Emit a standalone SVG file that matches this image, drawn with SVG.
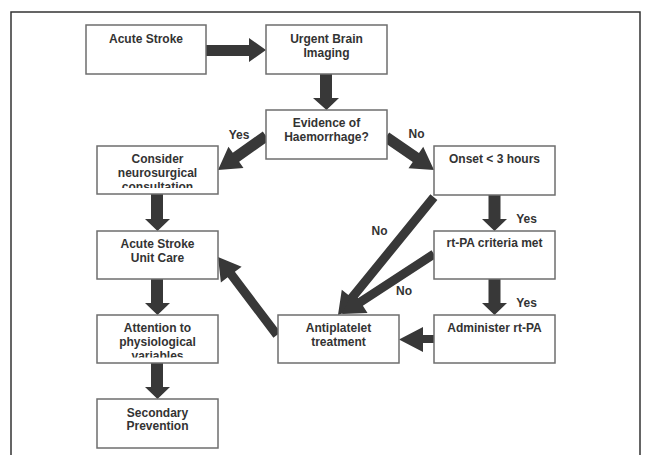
<svg xmlns="http://www.w3.org/2000/svg" width="651" height="455" viewBox="0 0 651 455">
<style>
.box{fill:#fff;stroke:#6e6e6e;stroke-width:1.5}
.t{font-family:"Liberation Sans",Arial,sans-serif;font-weight:bold;font-size:12px;fill:#333;text-anchor:middle}
.arr{fill:#383838}
.frame{fill:none;stroke:#333;stroke-width:1.5}
</style>
<defs>
<clipPath id="c1"><rect x="97" y="146" width="121" height="42"/></clipPath>
<clipPath id="c2"><rect x="97" y="315" width="121" height="42.5"/></clipPath>
</defs>
<rect width="651" height="455" fill="#fff"/>
<path class="frame" d="M11,455 V12 H640 V455"/>
<g id="connectors">
<polygon class="arr" points="206,45 249,45 249,38 266,50 249,62 249,56 206,56"/>
<polygon class="arr" points="320,74 332,74 332,98 339,98 326.5,110 313,98 320,98"/>
<polygon class="arr" points="151,194 163,194 163,219 170,219 157.5,231 145,219 151,219"/>
<polygon class="arr" points="151,279 163,279 163,303 170,303 157.5,315 145,303 151,303"/>
<polygon class="arr" points="151,363 163,363 163,387 170,387 157.5,399 145,387 151,387"/>
<polygon class="arr" points="488.5,195 500.5,195 500.5,219 507,219 494.5,231 482,219 488.5,219"/>
<polygon class="arr" points="488.5,279 500.5,279 500.5,303 507,303 494.5,315 482,303 488.5,303"/>
<polygon class="arr" points="434,335 423,335 423,327 399,339.5 423,352 423,343 434,343"/>
<g transform="translate(218,170) rotate(144.7)"><polygon class="arr" points="-58.8,-5.5 -22,-5.5 -22,-13 0,0 -22,13 -22,5.5 -58.8,5.5"/></g>
<g transform="translate(434,170) rotate(34.5)"><polygon class="arr" points="-58.2,-5.5 -22,-5.5 -22,-13 0,0 -22,13 -22,5.5 -58.2,5.5"/></g>
<g transform="translate(338,315) rotate(129.1)"><polygon class="arr" points="-152,-4.5 -22,-4.5 -22,-13 0,0 -22,13 -22,4.5 -152,4.5"/></g>
<g transform="translate(342,314) rotate(146.9)"><polygon class="arr" points="-109.8,-4.5 -22,-4.5 -22,-13 0,0 -22,13 -22,4.5 -109.8,4.5"/></g>
<g transform="translate(218,257) rotate(-127.1)"><polygon class="arr" points="-97.8,-4.5 -22,-4.5 -22,-13 0,0 -22,13 -22,4.5 -97.8,4.5"/></g>
<text class="t" x="239" y="139">Yes</text>
<text class="t" x="416.5" y="138">No</text>
<text class="t" x="526.5" y="223">Yes</text>
<text class="t" x="379.5" y="235">No</text>
<text class="t" x="404" y="295">No</text>
<text class="t" x="526.5" y="307">Yes</text>
</g>
<g id="acute-stroke"><rect class="box" x="86" y="25" width="120" height="49"/><text class="t" x="146" y="43">Acute Stroke</text></g>
<g id="urgent-imaging"><rect class="box" x="266" y="25" width="121" height="49"/><text class="t" x="326.5" y="43">Urgent Brain</text><text class="t" x="326.5" y="56.5">Imaging</text></g>
<g id="evidence"><rect class="box" x="266" y="110" width="121" height="49"/><text class="t" x="326.5" y="127">Evidence of</text><text class="t" x="326.5" y="140.5">Haemorrhage?</text></g>
<g id="consider"><rect class="box" x="97" y="146" width="121" height="48"/><text class="t" x="157.5" y="163">Consider</text><text class="t" x="157.5" y="177">neurosurgical</text><text class="t" x="157.5" y="191" clip-path="url(#c1)">consultation</text></g>
<g id="unit-care"><rect class="box" x="97" y="231" width="121" height="48"/><text class="t" x="157.5" y="248">Acute Stroke</text><text class="t" x="157.5" y="262">Unit Care</text></g>
<g id="attention"><rect class="box" x="97" y="315" width="121" height="48"/><text class="t" x="157.5" y="332">Attention to</text><text class="t" x="157.5" y="345.5">physiological</text><text class="t" x="157.5" y="359.5" clip-path="url(#c2)">variables</text></g>
<g id="secondary"><rect class="box" x="97" y="399" width="121" height="49"/><text class="t" x="157.5" y="417">Secondary</text><text class="t" x="157.5" y="430">Prevention</text></g>
<g id="antiplatelet"><rect class="box" x="278" y="315" width="121" height="48"/><text class="t" x="338.5" y="332">Antiplatelet</text><text class="t" x="338.5" y="345.5">treatment</text></g>
<g id="onset"><rect class="box" x="434" y="146" width="121" height="49"/><text class="t" x="494.5" y="163">Onset &lt; 3 hours</text></g>
<g id="rtpa-criteria"><rect class="box" x="434" y="231" width="121" height="48"/><text class="t" x="494.5" y="247">rt-PA criteria met</text></g>
<g id="administer"><rect class="box" x="434" y="315" width="121" height="48"/><text class="t" x="494.5" y="332">Administer rt-PA</text></g>
</svg>
